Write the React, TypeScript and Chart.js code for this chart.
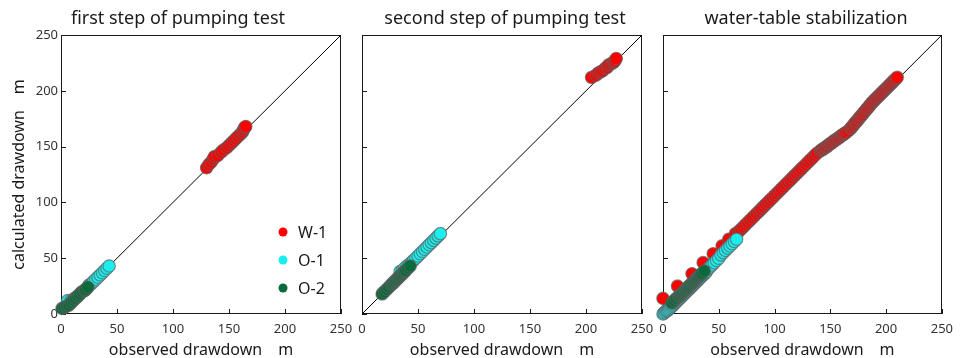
import { useEffect, useRef } from 'react';
import { Chart, registerables } from 'chart.js';

Chart.register(...registerables);

type P = [number, number];

const FONT = '"Noto Sans", "DejaVu Sans", sans-serif';

const seriesNames = ['W-1', 'O-1', 'O-2'];
const seriesColors = ['#ff0000', '#1aeeee', '#0a6a3c'];
const axisTicks = [0, 50, 100, 150, 200, 250];
const panelTitles = ['first step of pumping test', 'second step of pumping test', 'water-table stabilization'];
const xTitle = 'observed drawdown\u3000m';
const yTitle = 'calculated drawdown\u3000m';
const diagonal: P[] = [[0, 0], [250, 250]];

// Panel 1: first step
const p1W1: P[] = [
  [130, 131], [132, 134], [134, 136], [136, 139], [137, 141], [140, 142], [143, 145], [145, 147],
  [148, 149], [150, 151], [152, 153], [154, 155], [156, 157], [158, 159], [160, 161], [162, 163],
  [163, 165], [164, 167], [165, 168],
];
const p1O1: P[] = [
  [6, 12], [9, 12], [12, 14], [15, 16], [18, 19], [21, 21], [23, 23], [25, 26], [27, 27], [29, 29],
  [31, 31], [33, 33], [35, 35], [37, 37], [39, 39], [41, 41], [43, 43],
];
const p1O2: P[] = [
  [1, 5], [3, 6], [5, 7], [7, 8], [9, 10], [11, 12], [13, 14], [15, 16], [17, 18], [19, 20], [21, 21],
  [22, 22], [24, 24],
];

// Panel 2: second step
const p2W1: P[] = [
  [205, 212], [209, 214], [211, 216], [213, 217], [215, 218], [217, 220], [219, 221], [220, 223],
  [222, 224], [224, 225], [225, 226], [226, 227], [227, 229],
];
const p2O1: P[] = [
  [34, 38], [36, 39], [38, 41], [40, 43], [42, 44], [44, 46], [46, 48], [48, 50], [50, 52], [52, 54],
  [54, 56], [56, 58], [58, 60], [60, 62], [62, 64], [64, 66], [66, 68], [68, 70], [70, 72],
];
const p2O2: P[] = [
  [18, 18], [20, 20], [22, 22], [24, 24], [26, 26], [27, 27], [28, 28], [29, 29], [30, 30], [31, 31],
  [32, 32], [33, 33], [34, 34], [35, 35], [36, 36], [37, 37], [38, 38], [39, 39], [41, 41], [43, 43],
];

// Panel 3: water-table stabilization
const p3W1: P[] = [
  [0, 14], [13, 25], [26, 36], [36, 46], [45, 54], [53, 61], [59, 67], [65, 72], [68, 74], [70, 76],
  [72, 78], [74, 80], [76, 82], [78, 84], [80, 86], [82, 88], [84, 90], [86, 92], [88, 94], [90, 96],
  [92, 98], [94, 100], [96, 102], [98, 104], [100, 106], [102, 108], [104, 110], [106, 112],
  [108, 114], [110, 116], [112, 118], [114, 120], [116, 122], [118, 124], [120, 126], [122, 128],
  [124, 130], [126, 132], [128, 134], [130, 136], [132, 138], [134, 140], [136, 142], [138, 144],
  [141, 146], [142, 147], [143, 147.5], [144, 148], [145, 149], [146, 149.5], [147, 150], [148, 151],
  [149, 152], [150, 152.5], [151, 153], [152, 154], [153, 155], [154, 155.5], [155, 156], [156, 157],
  [157, 157.5], [158, 158], [159, 159], [160, 160], [161, 160.5], [162, 161], [163, 162], [164, 162.5],
  [166, 164],
  [168, 166], [169, 167], [170, 168.5], [171, 169.5], [172, 171], [173, 172], [174, 173], [175, 174.5],
  [176, 175.5], [177, 177], [178, 178], [179, 179], [180, 180.5], [181, 181.5], [182, 183], [183, 184],
  [184, 185], [185, 186.5], [186, 187.5], [187, 189], [188, 190], [189, 191], [190, 192], [191, 193],
  [192, 194], [193, 195], [194, 196], [195, 197], [196, 198], [197, 199], [198, 200], [199, 201],
  [200, 202], [201, 203], [202, 204], [203, 205], [204, 206], [205, 207], [206, 208], [207, 209],
  [208, 210], [209, 211], [210, 212],
];
const p3O1: P[] = [
  [0, 0], [1, 1], [2, 2], [3, 3], [4, 3], [5, 4], [6, 5], [7, 6], [8, 7], [9, 8], [10, 9], [11, 10],
  [12, 11], [13, 12], [14, 13], [15, 14], [16, 15], [17, 16], [18, 17], [19, 18], [20, 19], [21, 20],
  [22, 21], [23, 22], [24, 23], [25, 24], [26, 25], [27, 26], [28, 27], [29, 28], [30, 29], [31, 30],
  [32, 31], [33, 32], [34, 33], [35, 34], [36, 35], [37, 36], [38, 37], [39, 38], [40, 40], [42, 42],
  [44, 44], [46, 46], [48, 48], [50, 50], [52, 53], [54, 55], [56, 57], [58, 59], [60, 61], [62, 63],
  [64, 65], [66, 67],
];
const p3O2: P[] = [
  [8, 10], [10, 12], [12, 14], [14, 15.5], [15, 16.5], [16, 17.5], [17, 18.5], [18, 19.5], [19, 20.5],
  [20, 21.5], [21, 22.5], [22, 23.5], [23, 24.5], [24, 25.5], [25, 26.5], [26, 27.5], [27, 28.5],
  [28, 29.5], [29, 30.5], [30, 31.5], [31, 32.5], [32, 33.5], [33, 34.5], [34, 35.5], [35, 36.5],
  [37, 38.5],
];

const panelSeries: P[][][] = [
  [p1W1, p1O1, p1O2],
  [p2W1, p2O1, p2O2],
  [p3W1, p3O1, p3O2],
];

// layout (pixel boxes of the plot areas)
const panelBoxes = [
  { left: 61, right: 341, titleX: 178 },
  { left: 362, right: 642, titleX: 505 },
  { left: 663, right: 942, titleX: 806 },
];
const TOP = 35;
const W = 960;
const H = 358;

function makeDecor(index: number) {
  return {
    id: 'decor' + index,
    beforeDatasetsDraw(chart: any) {
      const { ctx, chartArea } = chart;
      const { left, right, top, bottom } = chartArea;
      ctx.save();
      ctx.strokeStyle = '#1a1a1a';
      ctx.lineWidth = 1;
      ctx.strokeRect(Math.round(left) + 0.5, Math.round(top) + 0.5, Math.round(right - left) - 1, Math.round(bottom - top) - 1);
      const xs = chart.scales.x;
      const ys = chart.scales.y;
      ctx.beginPath();
      for (const v of axisTicks) {
        const px = Math.round(xs.getPixelForValue(v)) + 0.5;
        ctx.moveTo(px, bottom);
        ctx.lineTo(px, bottom - 5);
        const py = Math.round(ys.getPixelForValue(v)) + 0.5;
        ctx.moveTo(left, py);
        ctx.lineTo(left + 5, py);
      }
      ctx.stroke();
      ctx.restore();
    },
    afterDraw(chart: any) {
      const { ctx, chartArea } = chart;
      const { left, right, top, bottom } = chartArea;
      ctx.save();
      ctx.fillStyle = '#1a1a1a';
      ctx.textAlign = 'center';
      ctx.textBaseline = 'alphabetic';
      ctx.font = `18px ${FONT}`;
      ctx.fillText(panelTitles[index], panelBoxes[index].titleX, 24);
      ctx.font = `16px ${FONT}`;
      ctx.fillText(xTitle, (left + right) / 2, 355);
      if (index === 0) {
        ctx.save();
        ctx.translate(24, (top + bottom) / 2);
        ctx.rotate(-Math.PI / 2);
        ctx.fillText(yTitle, 0, 0);
        ctx.restore();
        ctx.textAlign = 'left';
        ctx.textBaseline = 'middle';
        seriesNames.forEach((name, k) => {
          const y = 232 + k * 28;
          ctx.beginPath();
          ctx.fillStyle = seriesColors[k];
          ctx.arc(283, y, 4.5, 0, Math.PI * 2);
          ctx.fill();
          ctx.fillStyle = '#1a1a1a';
          ctx.font = `16px ${FONT}`;
          ctx.fillText(name, 298, y + 1);
        });
      }
      ctx.restore();
    },
  };
}

function Panel({ index }: { index: number }) {
  const ref = useRef<HTMLCanvasElement>(null);
  useEffect(() => {
    const canvas = ref.current;
    if (!canvas) return;
    const box = panelBoxes[index];
    const showY = index === 0;
    const series = panelSeries[index];
    const chart = new Chart(canvas, {
      type: 'scatter',
      data: {
        datasets: [
          {
            type: 'line',
            label: 'y=x',
            data: diagonal.map(([x, y]) => ({ x, y })),
            borderColor: '#000000',
            borderWidth: 1,
            pointRadius: 0,
            fill: false,
            order: 10,
          } as any,
          ...series.map((s, k) => ({
            label: seriesNames[k],
            data: s.map(([x, y]) => ({ x, y })),
            backgroundColor: seriesColors[k],
            borderColor: 'rgba(95,95,95,0.7)',
            borderWidth: 1.2,
            pointRadius: 6.2,
            order: 3 - k,
            clip: false as any,
          })),
        ],
      },
      options: {
        animation: false,
        responsive: false,
        maintainAspectRatio: false,
        events: [],
        layout: {
          padding: { left: showY ? 0 : box.left, right: W - box.right, top: TOP, bottom: 0 },
        },
        plugins: {
          legend: { display: false },
          tooltip: { enabled: false },
          title: { display: false },
        },
        scales: {
          x: {
            type: 'linear',
            min: 0,
            max: 250,
            afterBuildTicks: (scale: any) => {
              scale.ticks = axisTicks.map((v) => ({ value: v }));
            },
            ticks: {
              font: { family: FONT, size: 13 },
              color: '#333333',
              padding: 7,
              maxRotation: 0,
              autoSkip: false,
            },
            grid: { display: false, drawTicks: false },
            border: { display: false },
            afterFit: (scale: any) => {
              scale.height = H - 314;
            },
          },
          y: {
            type: 'linear',
            min: 0,
            max: 250,
            afterBuildTicks: (scale: any) => {
              scale.ticks = axisTicks.map((v) => ({ value: v }));
            },
            ticks: {
              display: showY,
              font: { family: FONT, size: 13 },
              color: '#333333',
              padding: 3,
            },
            grid: { display: false, drawTicks: false },
            border: { display: false },
            afterFit: (scale: any) => {
              scale.width = showY ? box.left : 0;
            },
          },
        },
      } as any,
      plugins: [makeDecor(index)],
    });
    return () => chart.destroy();
  }, [index]);
  return (
    <canvas
      ref={ref}
      width={W}
      height={H}
      style={{ position: 'absolute', left: 0, top: 0, width: W, height: H }}
    />
  );
}

export default function App() {
  return (
    <div style={{ position: 'absolute', left: 0, top: 0, width: W, height: H, background: '#ffffff', overflow: 'hidden' }}>
      <Panel index={0} />
      <Panel index={1} />
      <Panel index={2} />
    </div>
  );
}
